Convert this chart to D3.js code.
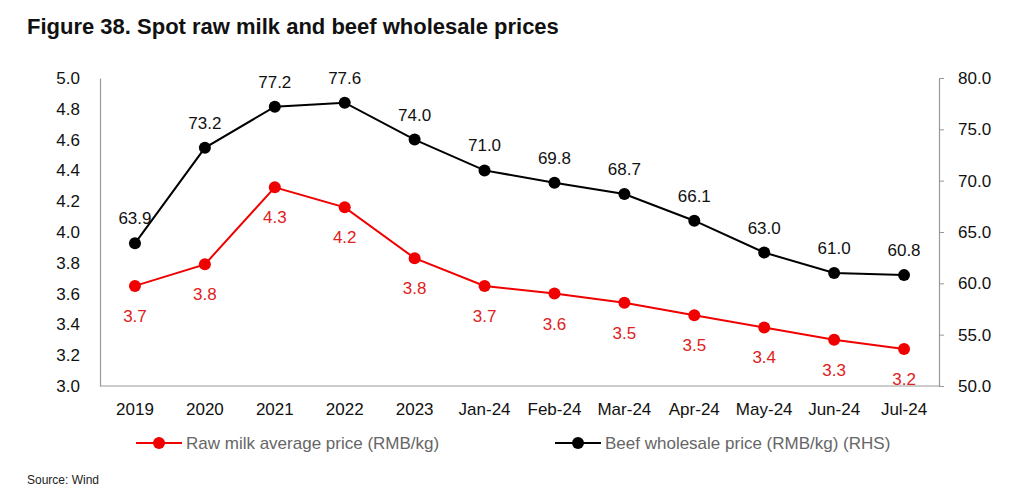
<!DOCTYPE html>
<html><head><meta charset="utf-8">
<script src="https://cdn.jsdelivr.net/npm/d3@7"></script>
<style>body{margin:0;background:#fff;font-family:"Liberation Sans",Arial,sans-serif;}</style>
</head><body><svg id="c" width="1024" height="497"></svg>
<script>
const categories = ["2019","2020","2021","2022","2023","Jan-24","Feb-24","Mar-24","Apr-24","May-24","Jun-24","Jul-24"];
const milkValues = [3.65,3.79,4.29,4.16,3.83,3.65,3.60,3.54,3.46,3.38,3.30,3.24];
const milkLabels = ["3.7","3.8","4.3","4.2","3.8","3.7","3.6","3.5","3.5","3.4","3.3","3.2"];
const beefValues = [63.9,73.2,77.2,77.6,74.0,71.0,69.8,68.7,66.1,63.0,61.0,60.8];
const leftTicks = [3.0,3.2,3.4,3.6,3.8,4.0,4.2,4.4,4.6,4.8,5.0];
const rightTicks = [50,55,60,65,70,75,80];
const seriesNames = ["Raw milk average price (RMB/kg)","Beef wholesale price (RMB/kg) (RHS)"];

const svg = d3.select("#c");
const L=100,R=939,T=78,B=386;
const x = d3.scaleBand().domain(categories).range([L,R]);
const yL = d3.scaleLinear().domain([3,5]).range([B,T]);
const yR = d3.scaleLinear().domain([50,80]).range([B,T]);
const red="#f00000", black="#000";
const font='"Liberation Sans",Arial,sans-serif';

svg.append("text").attr("x",27).attr("y",34).attr("font-family",font).attr("font-size",22).attr("font-weight","bold").attr("fill","#111").text("Figure 38. Spot raw milk and beef wholesale prices");

// axes
const gl = svg.append("g").attr("transform",`translate(${L},0)`).call(d3.axisLeft(yL).tickValues(leftTicks).tickFormat(d3.format(".1f")).tickSize(0).tickPadding(20));
const gr = svg.append("g").attr("transform",`translate(${R},0)`).call(d3.axisRight(yR).tickValues(rightTicks).tickFormat(d3.format(".1f")).tickSize(0).tickPadding(19));
const gb = svg.append("g").attr("transform",`translate(0,${B})`).call(d3.axisBottom(x).tickSize(0).tickPadding(17));
[gl,gr,gb].forEach(g=>{g.select(".domain").attr("stroke","#999").attr("stroke-width",1.2);
  g.selectAll("text").attr("font-family",font).attr("font-size",17).attr("fill","#111");});
gr.selectAll(".tick").append("line").attr("x1",0).attr("x2",5).attr("stroke","#999");
gb.select(".domain").attr("d",`M${L},0H${R}`);

const cx = d=>x(d)+x.bandwidth()/2;
// beef
svg.append("path").datum(beefValues).attr("fill","none").attr("stroke",black).attr("stroke-width",2)
  .attr("d",d3.line().x((d,i)=>cx(categories[i])).y(d=>yR(d)));
svg.selectAll(".bp").data(beefValues).join("circle").attr("cx",(d,i)=>cx(categories[i])).attr("cy",d=>yR(d)).attr("r",6).attr("fill",black);
svg.selectAll(".bl").data(beefValues).join("text").attr("x",(d,i)=>cx(categories[i])).attr("y",d=>yR(d)-19)
  .attr("text-anchor","middle").attr("font-family",font).attr("font-size",17).attr("fill","#111").text(d=>d.toFixed(1));
// milk
svg.append("path").datum(milkValues).attr("fill","none").attr("stroke",red).attr("stroke-width",2)
  .attr("d",d3.line().x((d,i)=>cx(categories[i])).y(d=>yL(d)));
svg.selectAll(".mp").data(milkValues).join("circle").attr("cx",(d,i)=>cx(categories[i])).attr("cy",d=>yL(d)).attr("r",6).attr("fill",red);
svg.selectAll(".ml").data(milkValues).join("text").attr("x",(d,i)=>cx(categories[i])).attr("y",d=>yL(d)+36)
  .attr("text-anchor","middle").attr("font-family",font).attr("font-size",17).attr("fill","#e02020").text((d,i)=>milkLabels[i]);

// legend
const leg=[{x:136,c:red,t:seriesNames[0]},{x:555,c:black,t:seriesNames[1]}];
leg.forEach(l=>{
  svg.append("line").attr("x1",l.x).attr("x2",l.x+46).attr("y1",443).attr("y2",443).attr("stroke",l.c).attr("stroke-width",2);
  svg.append("circle").attr("cx",l.x+23).attr("cy",443).attr("r",6).attr("fill",l.c);
  svg.append("text").attr("x",l.x+50).attr("y",449).attr("font-family",font).attr("font-size",17).attr("fill","#666").text(l.t);
});
svg.append("text").attr("x",27).attr("y",484).attr("font-family",font).attr("font-size",12).attr("fill","#222").text("Source: Wind");
</script></body></html>
